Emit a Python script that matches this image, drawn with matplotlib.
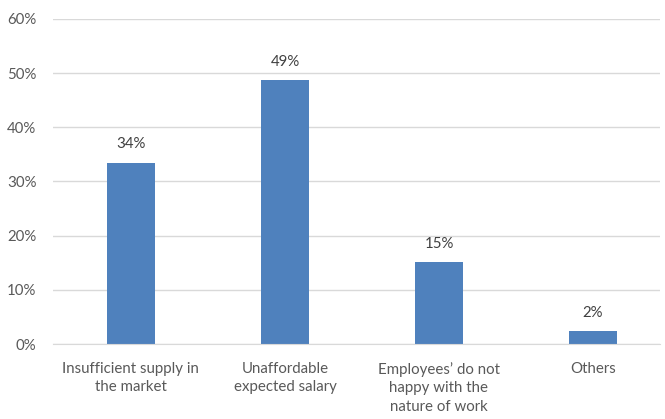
import matplotlib
matplotlib.use("Agg")
import matplotlib.pyplot as plt
from matplotlib.ticker import FuncFormatter

categories = ["Insufficient supply in\nthe market", "Unaffordable\nexpected salary",
              "Employees\u2019 do not\nhappy with the\nnature of work", "Others"]
values = [33.5, 48.7, 15.1, 2.4]
value_labels = ["34%", "49%", "15%", "2%"]

plt.rcParams['font.family'] = ['Lato', 'DejaVu Sans']
fig = plt.figure(figsize=(6.65, 4.19), dpi=100)
ax = fig.add_axes([53/665, (419-344)/419, (660-53)/665, (344-19)/419])

x = range(len(categories))
bars = ax.bar(x, values, width=0.31, color="#4F81BD", zorder=3)
for b, lab in zip(bars, value_labels):
    ax.text(b.get_x() + b.get_width()/2, b.get_height() + 3.4, lab,
            ha="center", va="center", fontsize=10.8, color="#404040")

ax.set_ylim(0, 60)
ax.set_xlim(-0.506, 3.435)
ax.set_yticks(range(0, 61, 10))
ax.yaxis.set_major_formatter(FuncFormatter(lambda v, p: f"{int(v)}%"))
ax.grid(axis="y", color="#D9D9D9", linewidth=1, zorder=0)
ax.set_xticks(list(x))
ax.set_xticklabels(categories, fontsize=10.8, color="#595959", linespacing=1.4)
for lbl in ax.get_yticklabels():
    lbl.set_fontsize(10.8)
    lbl.set_color("#595959")
ax.tick_params(axis="both", length=0)
ax.tick_params(axis="y", pad=12)
ax.tick_params(axis="x", pad=13)
for s in ["top", "right", "left"]:
    ax.spines[s].set_visible(False)
ax.spines["bottom"].set_color("#D9D9D9")
ax.spines["bottom"].set_zorder(4)

fig.savefig("out.png", dpi=100)
